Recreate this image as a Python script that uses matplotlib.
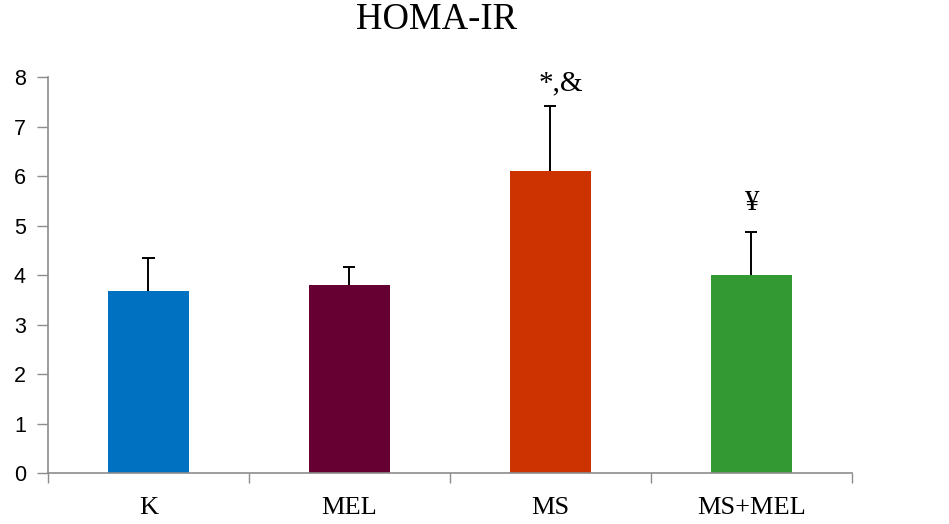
import matplotlib
matplotlib.use("Agg")
import matplotlib.pyplot as plt
import numpy as np

# Group means and standard deviations of HOMA-IR
groups = ["K", "MEL", "MS", "MS+MEL"]
means = [3.68, 3.80, 6.10, 4.00]
errors = [0.66, 0.37, 1.31, 0.87]
colors = ["#0070C0", "#660033", "#CC3300", "#339933"]
marks = ["", "", "*,&", "\u00a5"]
mark_y = [0, 0, 7.88, 5.45]

yticks = list(range(0, 9))

fig = plt.figure(figsize=(9.49, 5.24), dpi=100)
ax = fig.add_axes([0.0506, 0.0973, 0.847, 0.7557])

x = np.arange(len(groups))
means_a = np.array(means)
err_a = np.array(errors)
ax.bar(x, means_a, width=0.405, color=colors, zorder=2)

# Upper-only error bars with a cap at the top
tops = means_a + err_a
ax.vlines(x, means_a, tops, color="black", linewidth=1.4, zorder=3)
ax.hlines(tops, x - 0.03, x + 0.03, color="black", linewidth=1.4, zorder=3)

serif = ["Liberation Serif", "DejaVu Serif"]
for xi, m, my in zip(x, marks, mark_y):
    if m:
        ax.text(xi + (0.05 if m == "*,&" else 0.0), my, m, ha="center", va="center",
                fontsize=21, family=serif)

ax.set_xlim(-0.5, len(groups) - 0.5)
ax.set_ylim(0, 8)
ax.set_yticks(yticks)
ax.set_yticklabels([str(t) for t in yticks], fontsize=15.5, family="Liberation Sans")

# Category boundary ticks on the x axis, labels centred under bars
ax.set_xticks(np.arange(-0.5, len(groups), 1.0))
ax.set_xticklabels([])
ax.set_xticks(x, minor=True)
ax.set_xticklabels(groups, minor=True, fontsize=19, family=serif)
ax.tick_params(axis="x", which="minor", length=0, pad=17)
ax.tick_params(axis="x", which="major", length=7, width=1, color="#8c8c8c", direction="out")
ax.tick_params(axis="y", length=8, width=1, color="#8c8c8c", direction="out", pad=8)

for side in ["top", "right"]:
    ax.spines[side].set_visible(False)
for side in ["left", "bottom"]:
    ax.spines[side].set_color("#8c8c8c")
    ax.spines[side].set_linewidth(1.2)

fig.text(437 / 949, 1 - 20 / 524, "HOMA-IR", ha="center", va="center",
         fontsize=26.5, family=serif)

fig.savefig("out.png", dpi=100)
